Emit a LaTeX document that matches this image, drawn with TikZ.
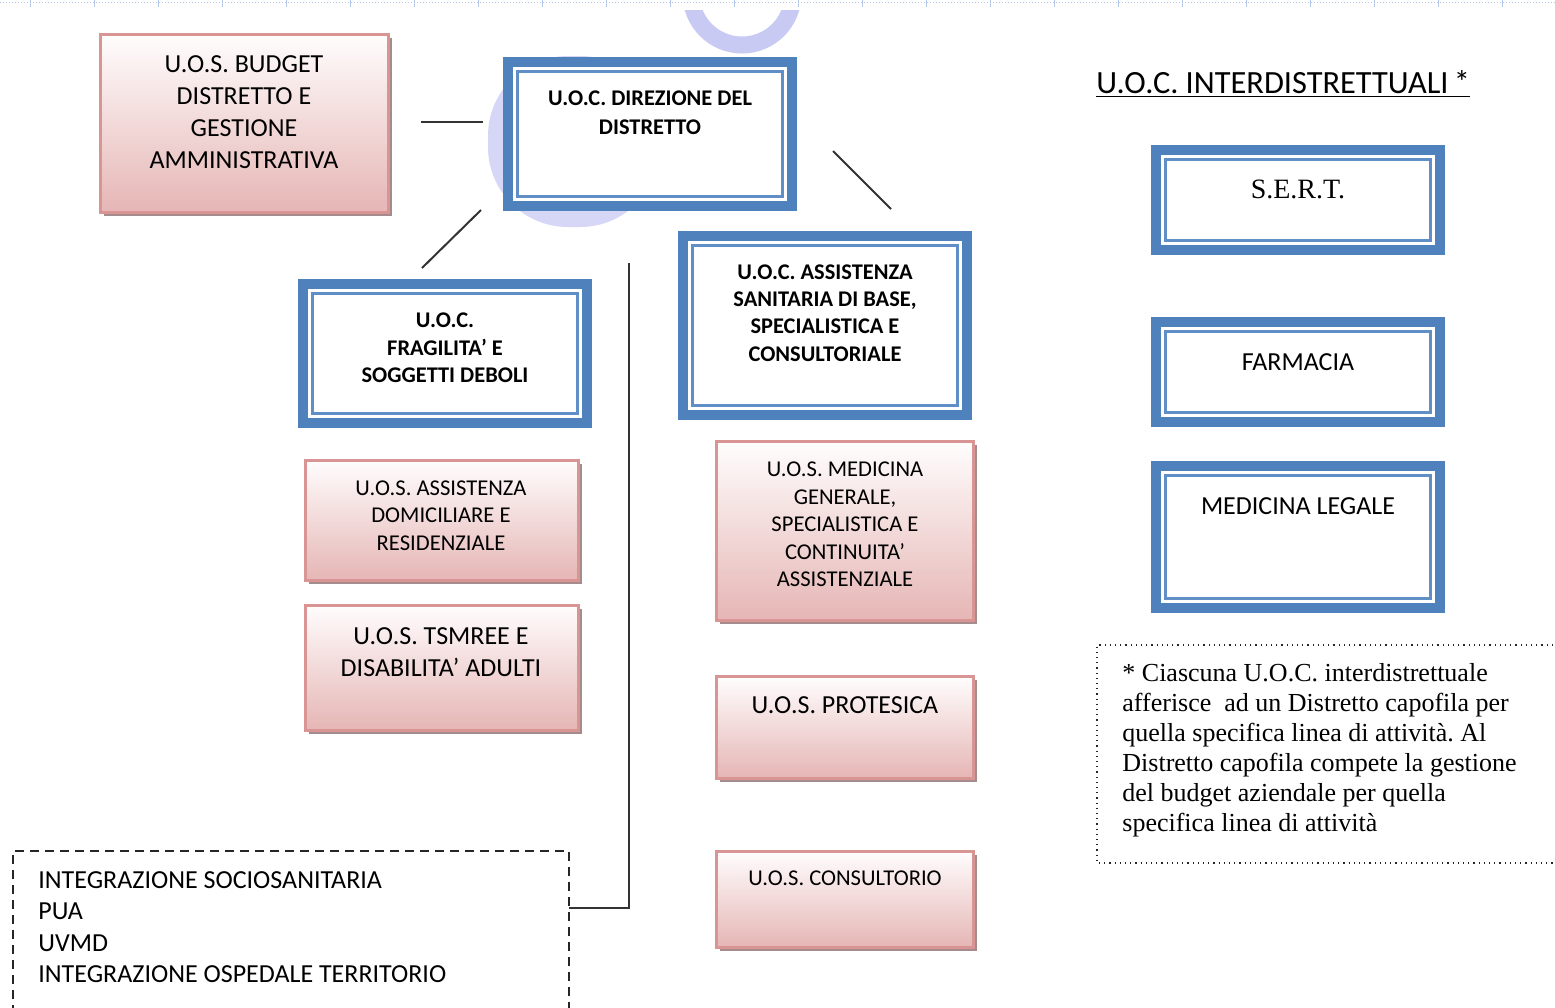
\documentclass[tikz,border=0pt]{standalone}
\usepackage{fontspec}
\setmainfont{Carlito}
\newfontfamily\tms{Liberation Serif}
\usetikzlibrary{fit,calc,shadows}
\definecolor{uocblue}{RGB}{79,129,189}
\definecolor{uocthin}{RGB}{96,143,200}
\definecolor{pinkb}{RGB}{217,149,148}
\definecolor{pinkbot}{RGB}{229,182,181}
\definecolor{pinktop}{RGB}{255,253,253}
\definecolor{shadc}{RGB}{165,140,140}
\definecolor{lav}{RGB}{200,202,243}
\definecolor{rulc}{RGB}{180,198,234}
\tikzset{
  pinkbox/.style={draw=pinkb, line width=1.5pt, top color=pinktop, bottom color=pinkbot, inner sep=0pt,
    drop shadow={shadow xshift=2pt, shadow yshift=-2pt, fill=shadc, opacity=1}},
  blueouter/.style={fill=uocblue, inner sep=0pt},
  conn/.style={draw=black!80, line width=1pt},
  lbl/.style={align=center, inner sep=0pt, text=black},
  tbig/.style={lbl, font=\fontsize{13}{16}\selectfont},
  tsmall/.style={lbl, font=\fontsize{11.3}{13.8}\selectfont},
  tbold/.style={lbl, font=\bfseries\fontsize{11.2}{13.7}\selectfont},
}
\newcommand\mkpink[5]{\node[pinkbox, fit={(#2,#3) (#4,#5)}] (#1) {};}
\newcommand\mkuoc[5]{%
  \node[blueouter, fit={(#2,#3) (#4,#5)}] (#1) {};
  \fill[white] ($(#1.north west)+(10,10)$) rectangle ($(#1.south east)+(-10,-10)$);
  \draw[uocthin, line width=1.6pt] ($(#1.north west)+(15,15)$) rectangle ($(#1.south east)+(-15,-15)$);}
\begin{document}
\frenchspacing
\begin{tikzpicture}[x=0.5pt,y=-0.5pt]
\useasboundingbox (0,0) rectangle (1555,1008);
\clip (0,0) rectangle (1555,1008);
\fill[white] (0,0) rectangle (1555,1008);
% ruler at top
\draw[rulc, densely dotted, line width=0.5pt] (0,2) -- (1555,2);
\foreach \k in {0,...,23} {\draw[rulc, line width=0.4pt] (30.6+64*\k,0) -- (30.6+64*\k,7);}
% watermark
\begin{scope}
  \clip (0,10) rectangle (1555,1008);
  \draw[lav, line width=8.5pt] (742,-6) circle [radius=51];
  \draw[lav!75, line width=8pt, rounded corners=36pt] (496,64) rectangle (652,219);
\end{scope}
% upper boxes
\mkpink{budget}{100}{34}{388}{212}
\node[tbig] (budgett) at (244,112) {U.O.S. BUDGET\\DISTRETTO E\\GESTIONE\\AMMINISTRATIVA};
\mkuoc{direz}{503}{57}{797}{211}
\node[tbold, font=\bfseries\fontsize{11.2}{14.5}\selectfont] (direzt) at (650,112.5) {U.O.C. DIREZIONE DEL\\DISTRETTO};
\mkuoc{fragil}{298}{279}{592}{428}
\node[tbold] (fragilt) at (445,348) {U.O.C.\\FRAGILITA’ E\\SOGGETTI DEBOLI};
\mkuoc{assist}{678}{231}{972}{420}
\node[tbold] (assistt) at (825,313) {U.O.C. ASSISTENZA\\SANITARIA DI BASE,\\SPECIALISTICA E\\CONSULTORIALE};
% connectors
\coordinate (c1a) at (421,122); \coordinate (c1b) at (483,122);
\draw[conn] (c1a) -- (c1b);
\coordinate (c2a) at (481,210); \coordinate (c2b) at (422,268);
\draw[conn] (c2a) -- (c2b);
\coordinate (c3a) at (833,151); \coordinate (c3b) at (891,209);
\draw[conn] (c3a) -- (c3b);
% left column
\mkpink{domic}{305}{460}{578}{580}
\node[tsmall] (domict) at (441,515.5) {U.O.S. ASSISTENZA\\DOMICILIARE E\\RESIDENZIALE};
\mkpink{tsmree}{305}{605}{578}{730}
\node[tbig] (tsmreet) at (441,652) {U.O.S. TSMREE E\\DISABILITA’ ADULTI};
% right column
\mkpink{medgen}{716}{441}{973}{620}
\node[tsmall] (medgent) at (845,524.5) {U.O.S. MEDICINA\\GENERALE,\\SPECIALISTICA E\\CONTINUITA’\\ASSISTENZIALE};
\mkpink{protes}{716}{676}{973}{778}
\node[tbig] (protest) at (845,705) {U.O.S. PROTESICA};
\mkpink{consul}{716}{851}{973}{947}
\node[tsmall] (consult) at (845,878) {U.O.S. CONSULTORIO};
% dashed box
\node[draw=black!85, dash pattern=on 4.5pt off 3pt, line width=0.75pt, inner sep=0pt, fit={(13,851) (569,1040)}] (integ) {};
\node[lbl, align=left, anchor=west, font=\fontsize{13}{15.7}\selectfont] (integt) at (38,927) {INTEGRAZIONE SOCIOSANITARIA\\PUA\\UVMD\\INTEGRAZIONE OSPEDALE TERRITORIO};
\coordinate (vtop) at (629,263); \coordinate (vjoin) at (569,908);
\draw[conn] (vtop) |- (vjoin);
% interdistrettuali
\node[lbl, anchor=west, font=\fontsize{16.2}{19}\selectfont] (title) at (1096,84) {\underline{U.O.C. INTERDISTRETTUALI\,*}};
\mkuoc{sert}{1151}{145}{1445}{255}
\node[lbl, font=\tms\fontsize{14}{16}\selectfont] (sertt) at (1298,189) {S.E.R.T.};
\mkuoc{farm}{1151}{317}{1445}{427}
\node[tbig] (farmt) at (1298,362) {FARMACIA};
\mkuoc{medleg}{1151}{461}{1445}{613}
\node[tbig] (medlegt) at (1298,506) {MEDICINA LEGALE};
% note box
\draw[black!85, dotted, line width=0.6pt] (1553,645) -- (1097,645) -- (1097,863) -- (1553,863);
\node[lbl, align=left, anchor=west, font=\tms\fontsize{13}{15}\selectfont] (note) at (1122,750) {* Ciascuna U.O.C. interdistrettuale\\afferisce\ \ ad un Distretto capofila per\\quella specifica linea di attività. Al\\Distretto capofila compete la gestione\\del budget aziendale per quella\\specifica linea di attività};
\end{tikzpicture}
\end{document}
